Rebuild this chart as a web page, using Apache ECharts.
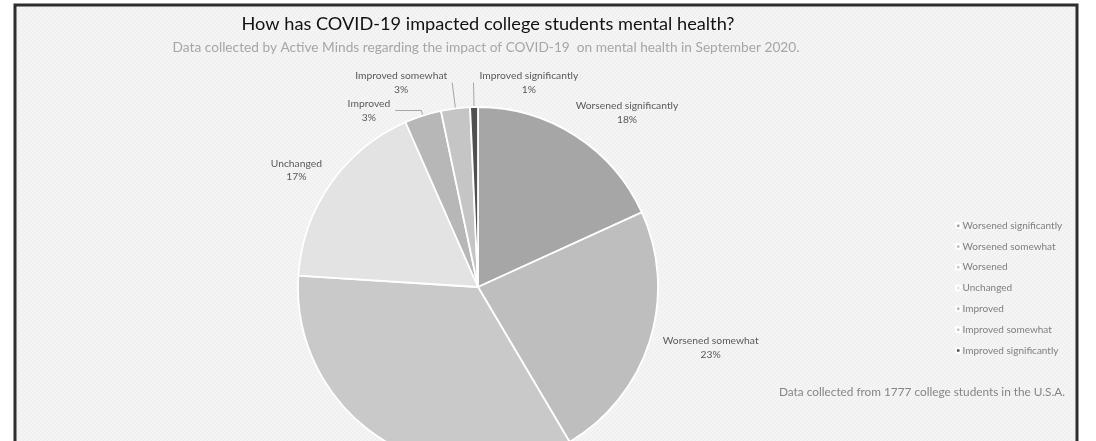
<!DOCTYPE html>
<html><head><meta charset="utf-8">
<script src="https://cdn.jsdelivr.net/npm/echarts@6/dist/echarts.min.js"></script>
<style>html,body{margin:0;padding:0;background:#fff}#c{width:1096px;height:441px}</style>
</head><body><div id="c"></div>
<script>
const categories = ['Worsened significantly','Worsened somewhat','Worsened','Unchanged','Improved','Improved somewhat','Improved significantly'];
const shares = [18.2, 23.3, 34.5, 17.4, 3.3, 2.6, 0.7];
const titleText = 'How has COVID-19 impacted college students mental health?';
const subtitleText = 'Data collected by Active Minds regarding the impact of COVID-19  on mental health in September 2020.';
const footnoteText = 'Data collected from 1777 college students in the U.S.A.';

const sliceColors = ['#a6a6a6','#bebebe','#c9c9c9','#e3e3e3','#b7b7b7','#c5c5c5','#505050'];
const labelLines = [
  {show:false, length:27, length2:32},
  {show:false, length:23, length2:34},
  {show:false, length:20, length2:10},
  {show:false, length:24.5, length2:9},
  {show:true, length:5.4, length2:26},
  {show:true, length:26, length2:0},
  {show:true, length:24.5, length2:0}
];
const centeredLabel = [true,true,true,true,false,false,false];

const pc = document.createElement('canvas');
pc.width = 4; pc.height = 4;
const g = pc.getContext('2d');
g.fillStyle = '#f4f4f4'; g.fillRect(0,0,4,4);
g.strokeStyle = '#ededed'; g.lineWidth = 1;
g.beginPath(); g.moveTo(0,4); g.lineTo(4,0); g.stroke();

const font = 'Lato';
const chart = echarts.init(document.getElementById('c'), null, {renderer:'canvas'});
chart.setOption({
  animation: false,
  textStyle: {fontFamily: font},
  graphic: [
    {type:'rect', z:-10, shape:{x:15, y:5, width:1062, height:470},
     style:{fill:{image: pc, repeat:'repeat'}, stroke:'#2e2e2e', lineWidth:3}},
    {type:'text', z:5, x:1065, y:392,
     style:{text: footnoteText, fill:'#858585', font:'11.8px Lato', textAlign:'right', textVerticalAlign:'middle'}}
  ],
  title: [
    {text: titleText, left: 483, top: 10, textAlign:'center',
     textStyle:{fontFamily:font, fontSize:18.2, fontWeight:'normal', color:'#111'}},
    {text: subtitleText, left: 481, top: 36, textAlign:'center',
     textStyle:{fontFamily:font, fontSize:13.7, fontWeight:'normal', color:'#a6a6a6'}}
  ],
  legend: {
    orient:'vertical', left: 950, top: 215, icon:'rect', itemWidth:4.5, itemHeight:4.5, itemGap:9.5,
    data: categories,
    textStyle:{fontFamily:font, fontSize:10, color:'#7f7f7f', padding:[0,0,0,-3], lineHeight:11.3}
  },
  series: [{
    type:'pie', center:[478, 287], radius:180, startAngle:90, clockwise:true,
    avoidLabelOverlap:false,
    itemStyle:{borderColor:'#ffffff', borderWidth:1.8},
    label:{
      show:true, position:'outside', distanceToLabelLine:5,
      formatter: p => '{a|' + p.name + '}\n{a|' + Math.round(p.percent) + '%}',
      rich:{a:{align:'center', fontFamily:font, fontSize:10.3, color:'#595959', lineHeight:13.5}}
    },
    labelLine:{lineStyle:{color:'#a6a6a6', width:1}},
    labelLayout: p => {
      if (centeredLabel[p.dataIndex]) return {align:'center'};
      if (p.dataIndex === 6) return {dx: p.labelRect.width + 11};
      return {};
    },
    data: categories.map((name, i) => ({
      name, value: shares[i],
      itemStyle:{color: sliceColors[i]},
      labelLine: labelLines[i]
    }))
  }]
});
</script></body></html>
